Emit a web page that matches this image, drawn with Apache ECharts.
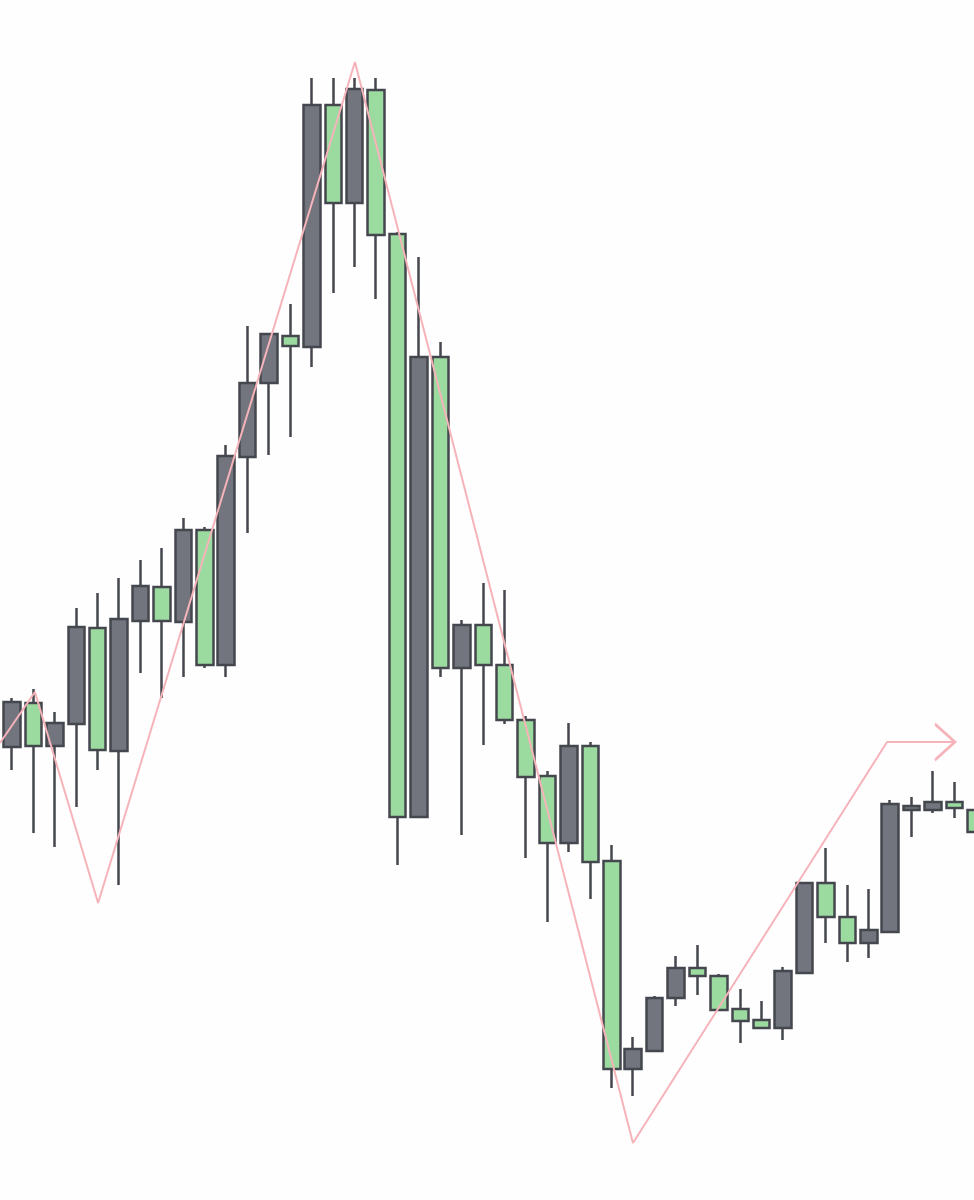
<!DOCTYPE html>
<html>
<head>
<meta charset="utf-8">
<script src="https://cdn.jsdelivr.net/npm/echarts@6/dist/echarts.min.js"></script>
<style>
  html, body { margin: 0; padding: 0; background: #fefefe; }
  #chart { width: 974px; height: 1200px; }
</style>
</head>
<body>
<div id="chart"></div>
<script>
  // candle values (open / close / low / high), one per bar
  const opens  = [425, 453, 497, 454, 476, 572, 449, 579, 613, 578, 670, 535, 743, 817, 864, 853, 1095, 997, 1110, 966, 383, 843, 532, 575, 535, 480, 424, 357, 454, 339, 131, 149, 202, 232, 224, 191, 180, 172, 227, 317, 283, 257, 268, 390, 390, 398, 390];
  const closes = [460, 498, 454, 477, 573, 450, 581, 614, 579, 670, 535, 744, 817, 866, 854, 1095, 997, 1111, 965, 383, 843, 532, 575, 535, 480, 423, 357, 454, 338, 131, 151, 202, 232, 224, 190, 179, 172, 229, 317, 283, 257, 270, 396, 394, 398, 392, 368];
  const lows   = [420, 430, 367, 353, 393, 430, 315, 527, 502, 523, 532, 523, 667, 745, 763, 833, 907, 933, 901, 335, 382, 523, 365, 455, 476, 342, 278, 348, 301, 112, 104, 149, 194, 205, 189, 157, 171, 160, 226, 257, 238, 242, 267, 363, 387, 382, 366];
  const highs  = [465, 502, 511, 488, 592, 607, 622, 640, 652, 682, 673, 755, 874, 866, 896, 1122, 1122, 1122, 1122, 968, 943, 858, 580, 617, 610, 484, 429, 477, 458, 355, 163, 204, 244, 255, 226, 211, 199, 233, 318, 352, 315, 311, 400, 403, 429, 418, 392];

  // zigzag swing line: [bar position, value]
  const swingX = [0.44, 2.07, 5.02, 17.01, 29.99, 41.85, 45.02];
  const swingY = [457, 508, 297, 1138, 57, 458, 458];

  const candles = opens.map((o, i) => [i, o, closes[i], lows[i], highs[i]]);
  const swing = swingX.map((x, i) => {
    if (i === swingX.length - 1) {
      return {
        value: [x, swingY[i]],
        symbol: 'path://M0,0 L20,18 L0,36',
        symbolSize: [20, 36],
        symbolOffset: [-10, 0],
        itemStyle: { color: 'transparent', borderColor: '#f6b3b9', borderWidth: 2.5 },
      };
    }
    return [x, swingY[i]];
  });

  const myChart = echarts.init(document.getElementById('chart'));
  myChart.setOption({
    animation: false,
    backgroundColor: '#fefefe',
    grid: { left: 0, right: 0, top: 0, bottom: 0 },
    xAxis: {
      type: 'value',
      min: 0.44,
      max: 45.91,
      show: false,
      splitLine: { show: false },
    },
    yAxis: {
      type: 'value',
      min: 0,
      max: 1200,
      show: false,
      splitLine: { show: false },
    },
    series: [
      {
        type: 'line',
        data: swing,
        symbol: 'none',
        showSymbol: true,
        lineStyle: { color: '#f6b3b9', width: 2 },
        silent: true,
      },
      {
        type: 'candlestick',
        data: candles,
        barWidth: 17,
        clip: false,
        itemStyle: {
          color: '#72757e',
          color0: '#9cdba0',
          borderColor: '#44474d',
          borderColor0: '#44474d',
          borderWidth: 2.5,
        },
      },
    ],
  });
</script>
</body>
</html>
